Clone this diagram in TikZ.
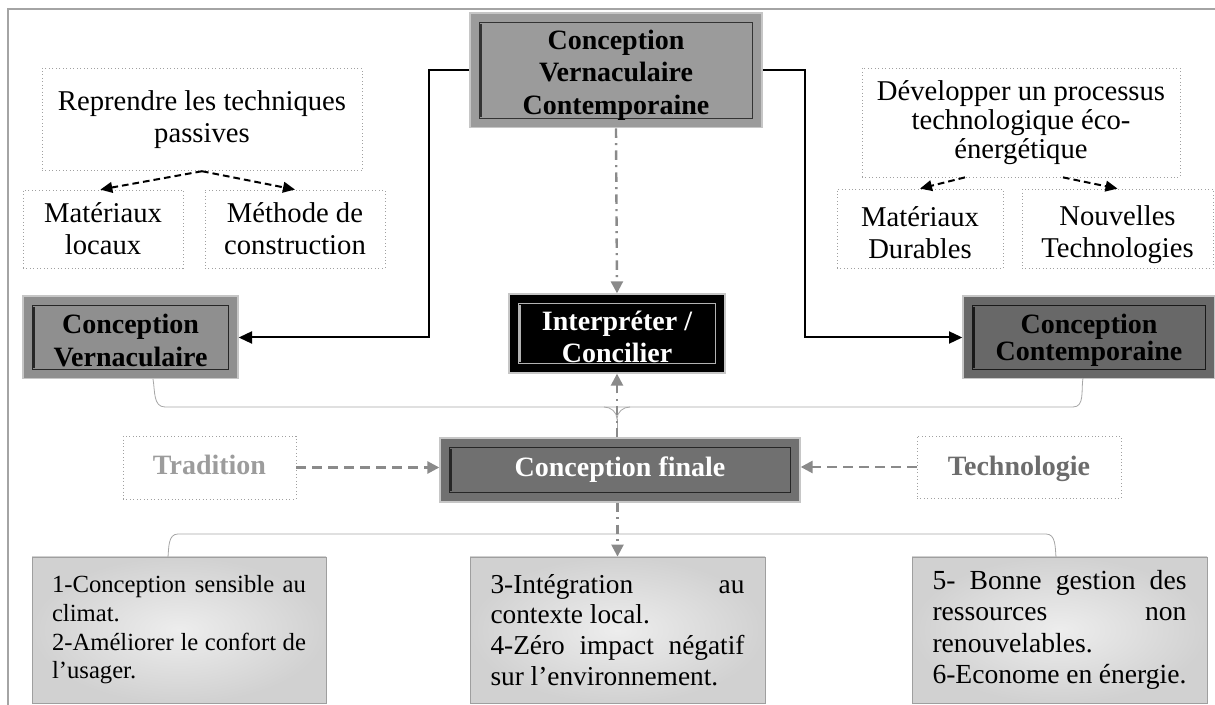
\documentclass[tikz,border=0pt]{standalone}
\usepackage{fontspec}
\setmainfont{Liberation Serif}
\usetikzlibrary{arrows.meta,positioning}

\definecolor{framegray}{HTML}{A4A4A4}
\definecolor{panelgray}{HTML}{9B9B9B}
\definecolor{midgray}{HTML}{8F8F8F}
\definecolor{darkpanel}{HTML}{686868}
\definecolor{finalgray}{HTML}{707070}
\definecolor{linegray}{HTML}{8A8A8A}
\definecolor{dotgray}{HTML}{A0A0A0}
\definecolor{tradgray}{HTML}{9C9C9C}
\definecolor{techgray}{HTML}{6C6C6C}

\newcommand{\padtop}[1]{\rule{0pt}{#1}}

\tikzset{
  bevel/.style 2 args={draw=gray!45, line width=1pt, fill=#1, align=center, inner sep=0pt,
    font=\bfseries\fontsize{21}{24.5}\selectfont,
    path picture={
      \draw[#2, line width=0.6pt] ([shift={(7pt,-7pt)}]path picture bounding box.north west) rectangle ([shift={(-7pt,7pt)}]path picture bounding box.south east);
      \draw[#2, line width=2.2pt] ([shift={(8pt,-8pt)}]path picture bounding box.north west) -- ([shift={(8pt,8pt)}]path picture bounding box.south west);
      \draw[#2, line width=1.6pt] (path picture bounding box.north east) -- (path picture bounding box.south east);
    }},
  dotbox/.style={draw=dotgray, dotted, line width=0.6pt, align=center, inner sep=0pt,
    font=\fontsize{21.5}{24}\selectfont},
  critbox/.style={draw=gray!75, line width=0.6pt, inner color=white!93!black, outer color=white!82!black,
    text width=190.5pt, align=justify, inner sep=0pt},
  link/.style={line width=1.5pt, -{Triangle[length=10pt,width=9pt]}},
  dlink/.style={line width=1.5pt, dash pattern=on 5pt off 3pt, -{Triangle[length=9pt,width=8pt]}},
  glink/.style={linegray, line width=2pt, dash pattern=on 7pt off 5pt, -{Triangle[length=9pt,width=9pt]}},
  dotlink/.style={linegray, line width=1.8pt, dash pattern=on 7pt off 4pt on 1.5pt off 4pt, -{Triangle[length=9pt,width=9pt]}},
  brace/.style={gray!70, line width=0.6pt}
}

\begin{document}
\begin{tikzpicture}[x=0.75pt,y=-0.75pt]
\useasboundingbox (0,0) rectangle (1215,705);
\draw[framegray, line width=1.6pt] (1215,9) -- (8,9) -- (8,705);

% top row
\node[bevel={panelgray}{black!80}, minimum width=219pt, minimum height=86pt] (cvc) at (616,70.5) {\padtop{21.7pt}Conception\\Vernaculaire\\Contemporaine};

\node[dotbox, minimum width=240pt, minimum height=77pt] (reprendre) at (202,119.5) {Reprendre les techniques\\passives};
\node[dotbox, minimum width=120pt, minimum height=58.5pt] (matloc) at (103,229) {Matériaux\\locaux};
\node[dotbox, minimum width=135pt, minimum height=58.5pt] (methode) at (295,229) {Méthode de\\construction};

\node[dotbox, font=\fontsize{21.5}{21.5}\selectfont, minimum width=238.5pt, minimum height=81.75pt] (devproc) at (1021,122.5) {Développer un processus\\technologique éco-\\énergétique};
\node[dotbox, minimum width=124.5pt, minimum height=59.25pt] (matdur) at (920,228.5) {\padtop{20.7pt}Matériaux\\Durables};
\node[dotbox, minimum width=143.25pt, minimum height=59.25pt] (nouvtech) at (1117.5,228.5) {\padtop{24.7pt}Nouvelles\\Technologies};

% middle row
\node[bevel={midgray}{black!85}, minimum width=161.25pt, minimum height=62pt] (cv) at (130.5,337.5) {\padtop{19.5pt}Conception\\Vernaculaire};
\node[bevel={black}{gray!60}, text=white, minimum width=162pt, minimum height=59.25pt] (interp) at (617,333.5) {\padtop{19.5pt}Interpréter /\\Concilier};
\node[bevel={darkpanel}{black!90}, font=\bfseries\fontsize{21}{20}\selectfont, minimum width=189pt, minimum height=62pt] (cc) at (1089,337.5) {\padtop{18.7pt}Conception\\Contemporaine};

\node[dotbox, font=\bfseries\fontsize{21}{24}\selectfont, text depth=4pt, text=tradgray, minimum width=129.75pt, minimum height=47.25pt] (trad) at (209.5,467.5) {Tradition};
\node[bevel={finalgray}{black!85}, text=white, minimum width=270pt, minimum height=48pt] (cf) at (620,470) {Conception finale};
\node[dotbox, font=\bfseries\fontsize{21}{24}\selectfont, text depth=2pt, text=techgray, minimum width=153pt, minimum height=46.5pt] (techno) at (1019,467) {Technologie};

% criteria
\node[critbox, font=\fontsize{18.5}{21.5}\selectfont, minimum width=220.5pt, minimum height=109.5pt] (crit1) at (179,630) {1-Conception sensible au\linebreak climat.\par 2-Améliorer le confort de\linebreak l’usager.};
\node[critbox, font=\fontsize{20.5}{23}\selectfont, minimum width=221.25pt, minimum height=109.5pt] (crit2) at (617.5,630) {3-Intégration au\linebreak contexte local.\par 4-Zéro impact négatif\linebreak sur l’environnement.};
\node[critbox, font=\fontsize{20.7}{23.5}\selectfont, minimum width=221.25pt, minimum height=109.5pt] (crit3) at (1059.5,630) {5- Bonne gestion des\linebreak ressources non\linebreak renouvelables.\par 6-Econome en énergie.};

% connectors
\draw[link] (cvc.west) -- ++(-40,0) |- (cv.east);
\draw[link] (cvc.east) -- ++(42,0) |- (cc.west);
\draw[dotlink] (cvc.south) -- (interp.north);

\draw[dlink] (reprendre.south) -- ([xshift=-2pt]matloc.north);
\draw[dlink] (reprendre.south) -- (methode.north);
\draw[dlink] ([xshift=-42pt]devproc.south) -- (matdur.north);
\draw[dlink] ([xshift=31.5pt]devproc.south) -- (nouvtech.north);

\draw[brace] (153,379) to[out=-80,in=180] (165,407) -- (1073,407) to[out=0,in=-100] (1083,378);
\draw[brace] (604,407) to[out=0,in=90] (617,419) to[out=90,in=180] (630,407);
\draw[brace] (617,419) -- (interp.south |- cf.north);
\draw[dotlink] (interp.south |- cf.north) -- (interp.south);

\draw[glink] (trad.east) -- (trad.east -| cf.west);
\draw[glink] (techno.west) -- (techno.west -| cf.east);

\draw[brace] (168,557) to[out=85,in=180] (178,534) -- (1046,534) to[out=0,in=95] (1056,557);
\draw[dotlink] (cf.south -| crit2.north) -- (crit2.north);
\end{tikzpicture}
\end{document}
